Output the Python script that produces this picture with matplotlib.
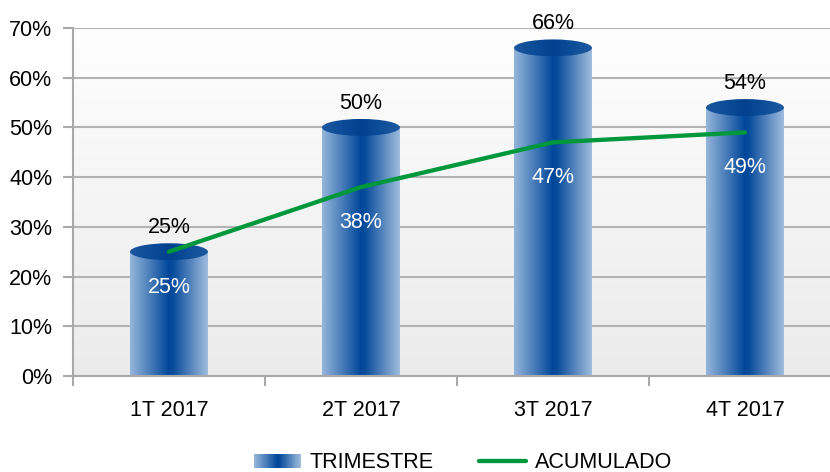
import numpy as np
import matplotlib
matplotlib.use("Agg")
import matplotlib.pyplot as plt
from matplotlib.colors import LinearSegmentedColormap
from matplotlib.patches import Ellipse, Rectangle, Patch
from matplotlib.lines import Line2D
from matplotlib.legend_handler import HandlerBase

plt.rcParams['font.family'] = ['Liberation Sans', 'DejaVu Sans']

categories = ['1T 2017', '2T 2017', '3T 2017', '4T 2017']
trimestre = [25, 50, 66, 54]
acumulado = [25, 38, 47, 49]
yticks = [0, 10, 20, 30, 40, 50, 60, 70]
series_names = ['TRIMESTRE', 'ACUMULADO']

FS = 15.5

bar_cmap = LinearSegmentedColormap.from_list(
    'bar', [(0.0, '#95b5db'), (0.5, '#00479a'), (0.56, '#0a4d9d'), (1.0, '#a0bdde')])
top_cmap = LinearSegmentedColormap.from_list(
    'top', [(0.0, '#1a579f'), (0.5, '#00418f'), (1.0, '#1d5aa1')])
bg_cmap = LinearSegmentedColormap.from_list('bg', ['#ebebeb', '#fefefe'])
green = '#00973d'

fig = plt.figure(figsize=(8.30, 4.72), dpi=100)
ax = fig.add_axes([73/830, 1-376/472, 768/830, 348/472])

# background gradient
ax.imshow(np.linspace(0, 1, 256).reshape(-1, 1), cmap=bg_cmap, origin='lower',
          extent=[0, 1, 0, 1], transform=ax.transAxes, aspect='auto', zorder=0)
ax.patch.set_visible(False)

w = 0.406
ell_h = 3.4
x = np.arange(len(categories))
grad = np.linspace(0, 1, 256).reshape(1, -1)
for xi, v in zip(x, trimestre):
    ax.imshow(grad, cmap=bar_cmap, extent=[xi - w/2, xi + w/2, 0, v],
              aspect='auto', zorder=2, interpolation='bilinear')
    e = Ellipse((xi, v), width=w, height=ell_h, facecolor='none', edgecolor='none', zorder=2.5)
    ax.add_patch(e)
    im = ax.imshow(grad, cmap=top_cmap, extent=[xi - w/2, xi + w/2, v - ell_h/2, v + ell_h/2],
                   aspect='auto', zorder=2.5, interpolation='bilinear')
    im.set_clip_path(e)
    ax.annotate(f'{v}%', (xi, v), xytext=(0, 17.5), textcoords='offset points',
                ha='center', va='center', fontsize=FS, color='black', zorder=5)

ax.plot(x, acumulado, color=green, lw=3.1, solid_capstyle='round', zorder=4)
for xi, v in zip(x, acumulado):
    ax.annotate(f'{v}%', (xi, v), xytext=(0, -25.5), textcoords='offset points',
                ha='center', va='center', fontsize=FS, color='white', zorder=5)

ax.set_xlim(-0.5, len(categories) - 0.5)
ax.set_ylim(0, 70)
ax.set_yticks(yticks)
ax.set_yticklabels([f'{t}%' for t in yticks])
ax.yaxis.grid(True, color='#b3b3b3', lw=1.5)
ax.set_axisbelow(True)

ax.set_xticks(np.arange(len(categories) + 1) - 0.5)
ax.set_xticklabels([])
ax.set_xticks(x, minor=True)
ax.set_xticklabels(categories, minor=True)
ax.tick_params(axis='x', which='major', length=7, width=1.5, color='#a9a9a9', direction='out')
ax.tick_params(axis='x', which='minor', length=0, pad=17, labelsize=FS)
ax.tick_params(axis='y', length=7, width=1.5, color='#a9a9a9', pad=8, labelsize=FS)

for s in ['top', 'right']:
    ax.spines[s].set_visible(False)
for s in ['left', 'bottom']:
    ax.spines[s].set_color('#a9a9a9')
    ax.spines[s].set_linewidth(1.5)
    ax.spines[s].set_zorder(3)


class GradHandler(HandlerBase):
    def create_artists(self, legend, orig_handle, xdescent, ydescent, width, height, fontsize, trans):
        n = 40
        arts = []
        for i in range(n):
            r = Rectangle((-xdescent + i * width / n, -ydescent), width / n * 1.1, height,
                          facecolor=bar_cmap(i / (n - 1)), edgecolor='none', transform=trans)
            arts.append(r)
        return arts


h1 = Patch(label=series_names[0])
h2 = Line2D([], [], color=green, lw=3.1, solid_capstyle='round', label=series_names[1])
fig.legend(handles=[h1, h2], labels=series_names, handler_map={Patch: GradHandler()},
           loc='center', bbox_to_anchor=(463/830, 1-463/472), ncol=2, frameon=False,
           fontsize=FS, handlelength=2.2, handleheight=0.65, handletextpad=0.4,
           columnspacing=2.1, borderpad=0, borderaxespad=0)

fig.savefig('out.png', dpi=100)
